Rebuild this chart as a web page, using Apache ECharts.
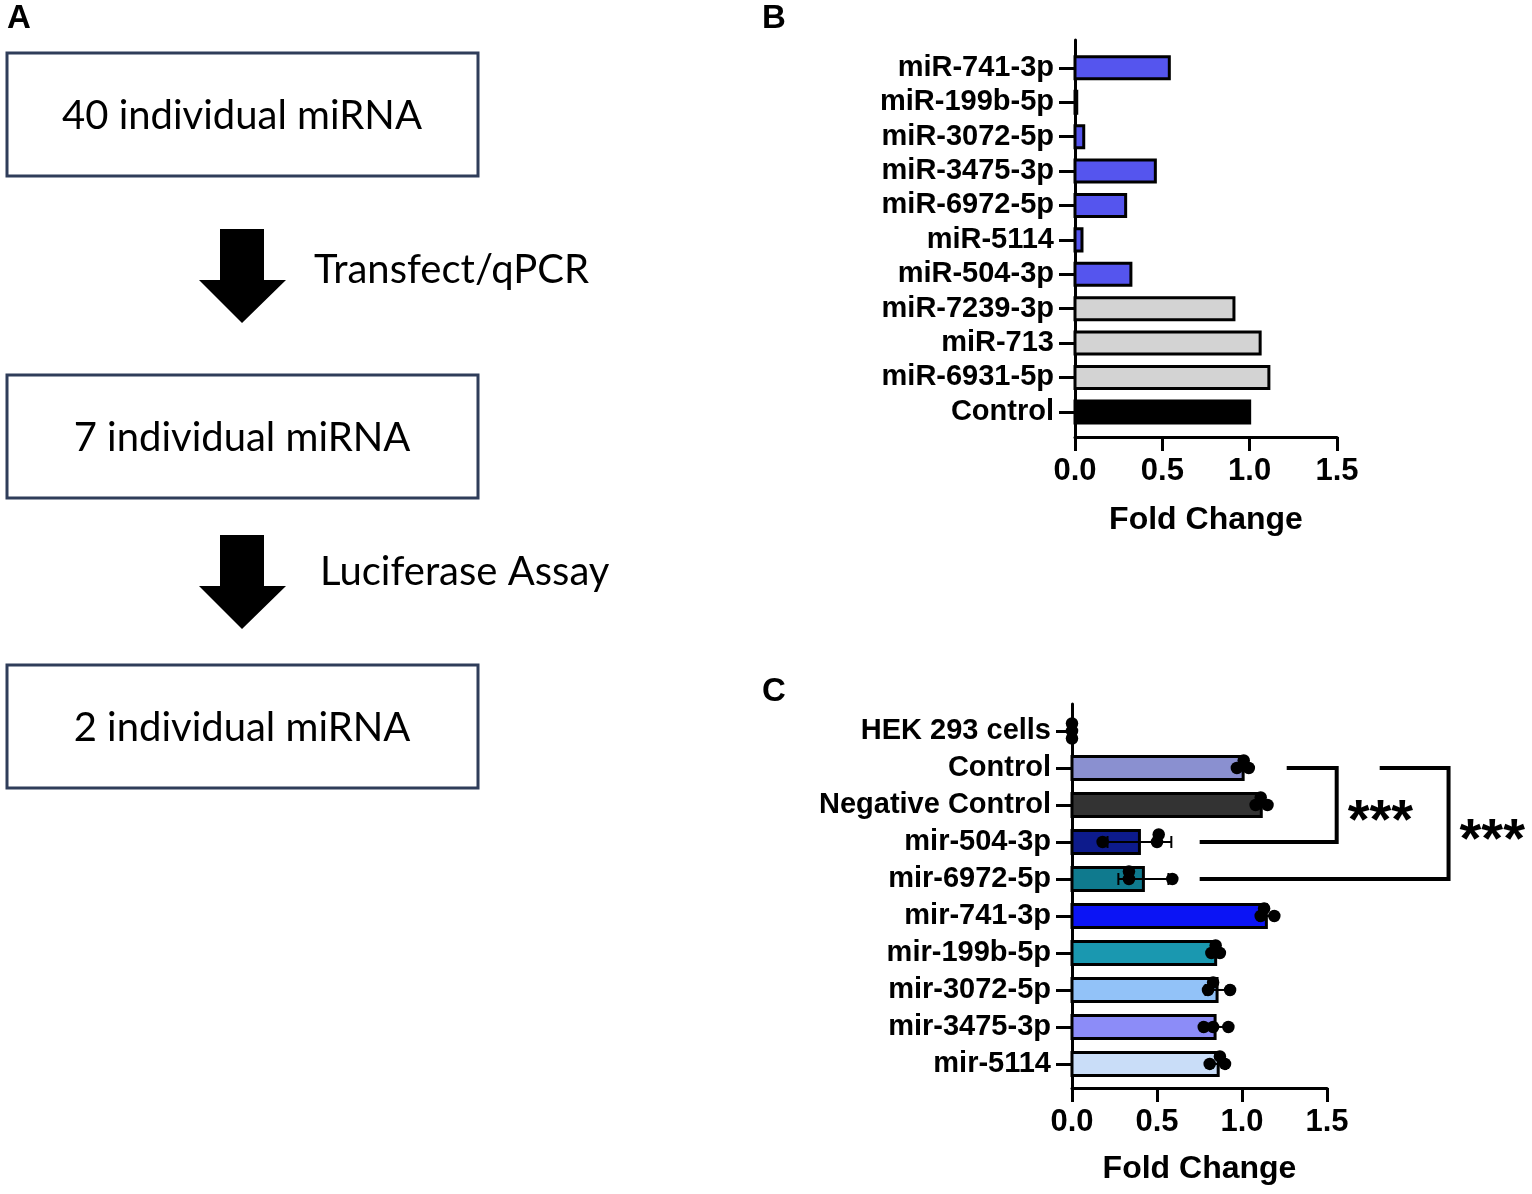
<!DOCTYPE html>
<html><head><meta charset="utf-8">
<script src="https://cdn.jsdelivr.net/npm/echarts@6/dist/echarts.min.js"></script>
<style>html,body{margin:0;padding:0;background:#fff}#c{width:1532px;height:1194px}</style>
</head><body><div id="c"></div>
<script>
// ---------- data ----------
const flowSteps = ['40 individual miRNA', '7 individual miRNA', '2 individual miRNA'];
const flowArrowLabels = ['Transfect/qPCR', 'Luciferase Assay'];

// Panel B (top to bottom)
const bCategories = ['miR-741-3p', 'miR-199b-5p', 'miR-3072-5p', 'miR-3475-3p', 'miR-6972-5p', 'miR-5114', 'miR-504-3p', 'miR-7239-3p', 'miR-713', 'miR-6931-5p', 'Control'];
const bValues = [0.54, 0.01, 0.05, 0.46, 0.29, 0.04, 0.32, 0.91, 1.06, 1.11, 1.00];
const bGroups = ['hit', 'hit', 'hit', 'hit', 'hit', 'hit', 'hit', 'other', 'other', 'other', 'control'];

// Panel C (top to bottom), three replicates each
const cCategories = ['HEK 293 cells', 'Control', 'Negative Control', 'mir-504-3p', 'mir-6972-5p', 'mir-741-3p', 'mir-199b-5p', 'mir-3072-5p', 'mir-3475-3p', 'mir-5114'];
const cReplicates = [
  [0, 0, 0],
  [0.97, 1.04, 1.01],
  [1.08, 1.15, 1.11],
  [0.18, 0.50, 0.51],
  [0.335, 0.59, 0.335],
  [1.11, 1.19, 1.13],
  [0.82, 0.87, 0.845],
  [0.80, 0.93, 0.83],
  [0.775, 0.92, 0.83],
  [0.81, 0.90, 0.87]
];
const xTicks = [0, 0.5, 1.0, 1.5];
const significance = [
  { from: 'Control', to: 'mir-504-3p', label: '***' },
  { from: 'Control', to: 'mir-6972-5p', label: '***' }
];

// ---------- styles ----------
const FONT = '"Liberation Sans", Arial, sans-serif';
const FLOW_FONT = 'Lato, "Open Sans", sans-serif';
const bGroupColors = { hit: '#5555EE', other: '#D3D3D3', control: '#000000' };
const cColors = ['#000000', '#8A90D0', '#333333', '#0D1B8C', '#0F7A8E', '#0B14F5', '#1A98B0', '#92C2F8', '#8C8CF8', '#C9DDF8'];
// bracket geometry (in Fold Change units): top start, right edge, bottom start
const bracketGeom = [
  { top: 1.263, right: 1.557, bottom: 0.751 },
  { top: 1.81, right: 2.215, bottom: 0.751 }
];

// ---------- helpers ----------
const mean = a => a.reduce((s, v) => s + v, 0) / a.length;
const sd = a => { const m = mean(a); return Math.sqrt(a.reduce((s, v) => s + (v - m) * (v - m), 0) / (a.length - 1)); };
const rowIndex = (names, name) => names.length - 1 - names.indexOf(name);

function yAxisCfg(gridIndex, names, min, max) {
  const n = names.length;
  const idx = names.map((_, i) => i);
  return {
    type: 'value', gridIndex, min, max,
    axisLine: { show: true, onZero: false, lineStyle: { color: '#000', width: 3 } },
    axisTick: { show: true, customValues: idx, length: 16, lineStyle: { color: '#000', width: 3 } },
    axisLabel: { customValues: idx, formatter: v => names[n - 1 - Math.round(v)], color: '#000', fontFamily: FONT, fontWeight: 'bold', fontSize: 29, margin: 21 },
    splitLine: { show: false }
  };
}
function xAxisCfg(gridIndex, nameGap) {
  return {
    type: 'value', gridIndex, min: xTicks[0], max: xTicks[xTicks.length - 1], interval: xTicks[1] - xTicks[0],
    name: 'Fold Change', nameLocation: 'middle', nameGap,
    nameTextStyle: { color: '#000', fontFamily: FONT, fontWeight: 'bold', fontSize: 32 },
    axisLine: { show: true, onZero: false, lineStyle: { color: '#000', width: 3 } },
    axisTick: { show: true, length: 14, lineStyle: { color: '#000', width: 3 } },
    axisLabel: { formatter: v => v.toFixed(1), color: '#000', fontFamily: FONT, fontWeight: 'bold', fontSize: 31, margin: 19 },
    splitLine: { show: false }
  };
}
function barSeries(gi, names, values, colors, barH) {
  const n = names.length;
  return {
    type: 'custom', xAxisIndex: gi, yAxisIndex: gi, clip: false, z: 2,
    encode: { x: 0, y: 1 },
    data: values.map((v, k) => [v, n - 1 - k]),
    renderItem: (params, api) => {
      const v = api.value(0), i = api.value(1);
      if (!(v > 0)) return null;
      const p0 = api.coord([0, i]), p1 = api.coord([v, i]);
      const h = api.size([0, barH])[1];
      return { type: 'rect', shape: { x: p0[0], y: p0[1] - h / 2, width: p1[0] - p0[0], height: h },
        style: { fill: colors[params.dataIndex], stroke: '#000', lineWidth: 3 } };
    }
  };
}

// beeswarm-like vertical spread for overlapping dots (pixel units)
function swarmOffsets(vals, pxPerUnit, step) {
  const placed = [];
  return vals.map(v => {
    const x = v * pxPerUnit;
    const cands = [0];
    for (let k = 1; k < 6; k++) cands.push(-k * step, k * step);
    for (const dy of cands) {
      if (placed.every(p => Math.hypot(p[0] - x, p[1] - dy) >= step - 0.01)) { placed.push([x, dy]); return dy; }
    }
    placed.push([x, 0]); return 0;
  });
}

// ---------- derived ----------
const bColors = bGroups.map(g => bGroupColors[g]);
const cMeans = cReplicates.map(mean);
const cSDs = cReplicates.map(sd);
const nC = cCategories.length;
const cPoints = [];
cReplicates.forEach((vals, k) => {
  const offs = swarmOffsets(vals, 170, 7.5);
  vals.forEach((v, j) => cPoints.push({ value: [v, nC - 1 - k], symbolOffset: [0, offs[j]] }));
});

// ---------- panel A graphics ----------
const boxTops = [53, 375, 665];
const graphics = [];
const letter = (t, x, y) => ({ type: 'text', x: x, y: y, style: { text: t, fontFamily: FONT, fontWeight: 'bold', fontSize: 33, fill: '#000', textAlign: 'left', textVerticalAlign: 'middle' } });
graphics.push(letter('A', 7, 19), letter('B', 762, 19), letter('C', 762, 692));
flowSteps.forEach((s, k) => {
  graphics.push({ type: 'rect', shape: { x: 7, y: boxTops[k], width: 471, height: 123 }, style: { fill: '#fff', stroke: '#2F3D5A', lineWidth: 3 } });
  graphics.push({ type: 'text', x: 242, y: boxTops[k] + 63, style: { text: s, fontFamily: FLOW_FONT, fontSize: 40, fill: '#000', textAlign: 'center', textVerticalAlign: 'middle' } });
});
const arrowTops = [229, 535];
const arrowLabelPos = [[314, 270], [320, 572]];
flowArrowLabels.forEach((s, k) => {
  const t = arrowTops[k];
  graphics.push({ type: 'polygon', shape: { points: [[220, t], [264, t], [264, t + 51], [286, t + 51], [242, t + 94], [199, t + 51], [220, t + 51]] }, style: { fill: '#000' } });
  graphics.push({ type: 'text', x: arrowLabelPos[k][0], y: arrowLabelPos[k][1], style: { text: s, fontFamily: FLOW_FONT, fontSize: 40, fill: '#000', textAlign: 'left', textVerticalAlign: 'middle' } });
});

// ---------- option ----------
const option = {
  backgroundColor: '#fff',
  animation: false,
  graphic: graphics,
  grid: [
    { left: 1075, top: 40, width: 262, height: 397 },
    { left: 1072, top: 704, width: 255, height: 384 }
  ],
  xAxis: [xAxisCfg(0, 67), xAxisCfg(1, 65)],
  yAxis: [yAxisCfg(0, bCategories, -0.73, 10.81), yAxisCfg(1, cCategories, -0.65, 9.73)],
  series: [
    barSeries(0, bCategories, bValues, bColors, 0.64),
    barSeries(1, cCategories, cMeans, cColors, 0.62),
    {
      type: 'custom', xAxisIndex: 1, yAxisIndex: 1, clip: false, z: 3,
      encode: { x: 0, y: 1 },
      data: cMeans.map((m, k) => [m, nC - 1 - k, cSDs[k]]),
      renderItem: (params, api) => {
        const m = api.value(0), i = api.value(1), s = api.value(2);
        if (!(s > 0)) return null;
        const a = api.coord([m - s, i]), b = api.coord([m + s, i]);
        const st = { stroke: '#000', lineWidth: 2 };
        const cap = 6;
        return { type: 'group', children: [
          { type: 'line', shape: { x1: a[0], y1: a[1], x2: b[0], y2: b[1] }, style: st },
          { type: 'line', shape: { x1: a[0], y1: a[1] - cap, x2: a[0], y2: a[1] + cap }, style: st },
          { type: 'line', shape: { x1: b[0], y1: b[1] - cap, x2: b[0], y2: b[1] + cap }, style: st }
        ] };
      }
    },
    {
      type: 'scatter', xAxisIndex: 1, yAxisIndex: 1, clip: false, z: 4,
      symbol: 'circle', symbolSize: 12.5, itemStyle: { color: '#000', opacity: 1 },
      emphasis: { disabled: true },
      data: cPoints
    },
    {
      type: 'custom', xAxisIndex: 1, yAxisIndex: 1, clip: false, z: 5,
      encode: { x: 0, y: 1 },
      data: significance.map((s, k) => [bracketGeom[k].right, rowIndex(cCategories, s.from), rowIndex(cCategories, s.to), bracketGeom[k].top, bracketGeom[k].bottom]),
      renderItem: (params, api) => {
        const xr = api.value(0), iFrom = api.value(1), iTo = api.value(2), xt = api.value(3), xb = api.value(4);
        const p1 = api.coord([xt, iFrom]), p2 = api.coord([xr, iFrom]), p3 = api.coord([xr, iTo]), p4 = api.coord([xb, iTo]);
        return { type: 'group', children: [
          { type: 'polyline', shape: { points: [p1, p2, p3, p4] }, style: { stroke: '#000', lineWidth: 4, fill: null } },
          { type: 'text', x: p2[0] + 11, y: (p2[1] + p3[1]) / 2 + 18, style: { text: significance[params.dataIndex].label, fontFamily: FONT, fontWeight: 'bold', fontSize: 56, fill: '#000', textAlign: 'left', textVerticalAlign: 'middle' } }
        ] };
      }
    }
  ]
};
const chart = echarts.init(document.getElementById('c'));
chart.setOption(option);
</script>
</body></html>
